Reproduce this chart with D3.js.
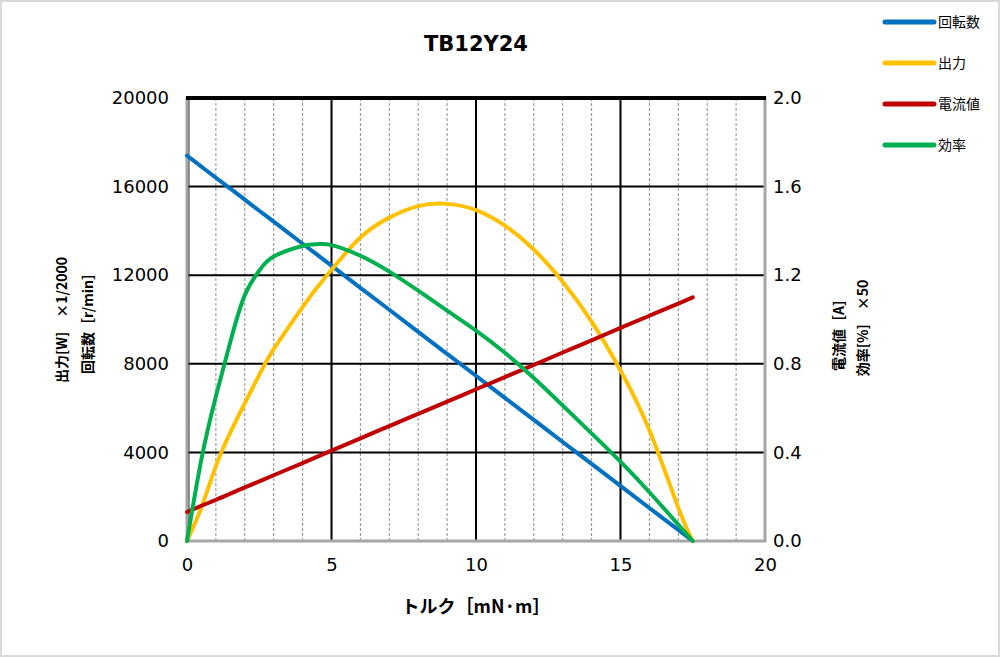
<!DOCTYPE html>
<html>
<head>
<meta charset="utf-8">
<script src="https://cdn.jsdelivr.net/npm/d3@7"></script>
<style>
  body { margin: 0; background: #fff; }
  svg { display: block; font-family: "DejaVu Sans", Verdana, "Noto Sans CJK JP", sans-serif; }
</style>
</head>
<body>
<div id="chart"></div>
<script>
// Data
const torque     = [0, 0.5, 1, 1.5, 2, 2.5, 3, 4, 4.5, 5, 6, 7, 8, 9, 10, 11, 12, 13, 14, 15, 16, 17, 17.5]; // mN·m
const speed      = [17400, 16900, 16400, 15910, 15410, 14910, 14420, 13420, 12930, 12430, 11430, 10440, 9440, 8450, 7460, 6460, 5470, 4470, 3480, 2490, 1490, 500, 0]; // r/min
const output     = [0, 0.76, 1.69, 2.45, 3.11, 3.75, 4.33, 5.28, 5.72, 6.12, 6.85, 7.3, 7.56, 7.61, 7.47, 7.12, 6.58, 5.85, 4.95, 3.85, 2.5, 0.75, 0]; // W
const current    = [0.131, 0.159, 0.186, 0.214, 0.242, 0.269, 0.297, 0.352, 0.380, 0.408, 0.463, 0.519, 0.574, 0.629, 0.685, 0.740, 0.795, 0.851, 0.906, 0.962, 1.017, 1.072, 1.10]; // A
const efficiency = [0, 18.5, 32.7, 45, 55.5, 61, 64.2, 66.6, 67, 66.8, 64.4, 60.8, 56.5, 52, 47.5, 42.5, 36.8, 30.6, 24.3, 17.9, 11, 3.7, 0]; // %

const xTicks = [0, 5, 10, 15, 20];
const yLeftTicks = [0, 4000, 8000, 12000, 16000, 20000];
const yRightTicks = [0, 0.4, 0.8, 1.2, 1.6, 2.0];

const seriesNames = ["回転数", "出力", "電流値", "効率"];
const seriesColors = ["#0070C0", "#FFC000", "#C00000", "#00B050"];

const width = 1000, height = 657;
const plot = { left: 187, right: 765, top: 98, bottom: 541 };

const svg = d3.select("#chart").append("svg")
    .attr("width", width)
    .attr("height", height);

// outer frame
svg.append("rect")
    .attr("x", 1).attr("y", 1)
    .attr("width", width - 2).attr("height", height - 2)
    .attr("fill", "#fff")
    .attr("stroke", "#d9d9d9")
    .attr("stroke-width", 2);

const x = d3.scaleLinear().domain([0, 20]).range([plot.left, plot.right]);
const yL = d3.scaleLinear().domain([0, 20000]).range([plot.bottom, plot.top]);
const yR = d3.scaleLinear().domain([0, 2.0]).range([plot.bottom, plot.top]);

// minor vertical grid (every 1 mN·m)
const minorX = d3.range(1, 20).filter(d => d % 5 !== 0);
svg.append("g")
    .selectAll("line")
    .data(minorX)
    .join("line")
    .attr("x1", d => x(d)).attr("x2", d => x(d))
    .attr("y1", plot.top).attr("y2", plot.bottom)
    .attr("stroke", "#8c8c8c")
    .attr("stroke-width", 1)
    .attr("stroke-dasharray", "3,2");

// major grid
svg.append("g")
    .selectAll("line")
    .data(xTicks.filter(d => d > 0 && d < 20))
    .join("line")
    .attr("x1", d => x(d)).attr("x2", d => x(d))
    .attr("y1", plot.top).attr("y2", plot.bottom)
    .attr("stroke", "#000")
    .attr("stroke-width", 2);

svg.append("g")
    .selectAll("line")
    .data(yLeftTicks.filter(d => d > 0 && d < 20000))
    .join("line")
    .attr("x1", plot.left).attr("x2", plot.right)
    .attr("y1", d => yL(d)).attr("y2", d => yL(d))
    .attr("stroke", "#000")
    .attr("stroke-width", 2);

// plot border
svg.append("rect")
    .attr("x", plot.left).attr("y", plot.top)
    .attr("width", plot.right - plot.left).attr("height", plot.bottom - plot.top)
    .attr("fill", "none")
    .attr("stroke", "#a6a6a6")
    .attr("stroke-width", 3);
svg.append("line")
    .attr("x1", plot.left + 2).attr("x2", plot.left + 2)
    .attr("y1", plot.top).attr("y2", plot.bottom)
    .attr("stroke", "#333").attr("stroke-width", 1);
svg.append("line")
    .attr("x1", plot.left - 1).attr("x2", plot.right + 1)
    .attr("y1", plot.top).attr("y2", plot.top)
    .attr("stroke", "#000").attr("stroke-width", 4);

// axes
const tickFont = "18px";
svg.append("g")
    .attr("transform", `translate(${plot.left - 18},0)`)
    .call(d3.axisLeft(yL).tickValues(yLeftTicks).tickFormat(d3.format("d")).tickSize(0).tickPadding(0))
    .call(g => g.select(".domain").remove())
    .selectAll("text")
    .style("font-size", tickFont)
    .style("font-family", "DejaVu Sans")
    .attr("fill", "#000");

svg.append("g")
    .attr("transform", `translate(${plot.right + 8},0)`)
    .call(d3.axisRight(yR).tickValues(yRightTicks).tickFormat(d3.format(".1f")).tickSize(0).tickPadding(0))
    .call(g => g.select(".domain").remove())
    .selectAll("text")
    .style("font-size", tickFont)
    .style("font-family", "DejaVu Sans")
    .attr("fill", "#000");

svg.append("g")
    .attr("transform", `translate(0,${plot.bottom + 17})`)
    .call(d3.axisBottom(x).tickValues(xTicks).tickSize(0).tickPadding(0))
    .call(g => g.select(".domain").remove())
    .selectAll("text")
    .style("font-size", tickFont)
    .style("font-family", "DejaVu Sans")
    .attr("fill", "#000");

// series
const rows = torque.map((t, i) => ({ t, speed: speed[i], output: output[i], current: current[i], eff: efficiency[i] }));
const series = [
    { key: "speed", y: d => yL(d.speed) },
    { key: "output", y: d => yL(d.output * 2000) },
    { key: "current", y: d => yR(d.current) },
    { key: "eff", y: d => yR(d.eff / 50) }
];

svg.append("g")
    .selectAll("path")
    .data(series)
    .join("path")
    .attr("fill", "none")
    .attr("stroke", (d, i) => seriesColors[i])
    .attr("stroke-width", 4)
    .attr("stroke-linecap", "round")
    .attr("stroke-linejoin", "round")
    .attr("d", s => d3.line().x(d => x(d.t)).y(s.y).curve(d3.curveNatural)(rows));

// title
svg.append("text")
    .attr("x", 476).attr("y", 51)
    .attr("text-anchor", "middle")
    .style("font-size", "21px")
    .style("font-weight", "bold")
    .text("TB12Y24");

// axis titles
svg.append("text")
    .attr("x", 476).attr("y", 613)
    .attr("text-anchor", "middle")
    .style("font-size", "18px")
    .style("font-weight", "bold")
    .style("font-family", "'Noto Sans CJK JP', sans-serif")
    .text("トルク［mN·m］");

const sideLabel = (xp, yp, txt) => svg.append("text")
    .attr("transform", `translate(${xp},${yp}) rotate(-90)`)
    .attr("text-anchor", "middle")
    .style("font-size", "14px")
    .style("font-weight", "bold")
    .style("font-family", "'Noto Sans CJK JP', sans-serif")
    .text(txt);

sideLabel(67, 320, "出力[W]　×1/2000");
sideLabel(93, 320, "回転数［r/min］");
sideLabel(844, 328, "電流値［A］　");
sideLabel(868, 328, "効率[%]　×50");

// legend
const legend = svg.append("g")
    .selectAll("g")
    .data(seriesNames)
    .join("g")
    .attr("transform", (d, i) => `translate(0,${22 + i * 41})`);

legend.append("line")
    .attr("x1", 885).attr("x2", 934)
    .attr("stroke", (d, i) => seriesColors[i])
    .attr("stroke-width", 5)
    .attr("stroke-linecap", "round");

legend.append("text")
    .attr("x", 938).attr("y", 5)
    .style("font-size", "14px")
    .style("font-family", "'Noto Sans CJK JP', sans-serif")
    .text(d => d);
</script>
</body>
</html>
